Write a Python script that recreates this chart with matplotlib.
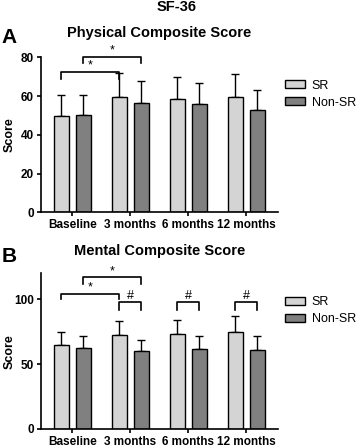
import matplotlib
matplotlib.use("Agg")
import matplotlib.pyplot as plt
import numpy as np

plt.rcParams['font.family'] = ['Liberation Sans', 'DejaVu Sans']

categories = ["Baseline", "3 months", "6 months", "12 months"]
series_names = ["SR", "Non-SR"]

pcs_sr = [49.5, 59.7, 58.7, 59.4]
pcs_sr_err = [10.9, 12.0, 11.0, 12.2]
pcs_non = [50.4, 56.6, 55.9, 53.0]
pcs_non_err = [10.0, 11.2, 11.0, 10.1]

mcs_sr = [64.6, 72.6, 73.6, 74.9]
mcs_sr_err = [10.0, 11.0, 10.8, 12.3]
mcs_non = [62.3, 60.0, 62.0, 61.3]
mcs_non_err = [9.7, 9.0, 10.0, 10.7]

col_sr = "#d4d4d4"
col_non = "#808080"

fig = plt.figure(figsize=(3.58, 4.47), dpi=100)
axA = fig.add_axes([0.1137, 0.525, 0.663, 0.3468])
axB = fig.add_axes([0.1137, 0.0403, 0.663, 0.348])

x = np.arange(len(categories))
off = 0.19
w = 0.26

def draw(ax, sr, sre, non, nne, ylim, yticks, leg_y):
    ax.bar(x - off, sr, w, color=col_sr, edgecolor="black", linewidth=1.0, label=series_names[0], zorder=2)
    ax.bar(x + off, non, w, color=col_non, edgecolor="black", linewidth=1.0, label=series_names[1], zorder=2)
    ax.errorbar(x - off, sr, yerr=[np.zeros(len(sr)), sre], fmt="none", ecolor="black", elinewidth=1.0, capsize=3, capthick=1.0, zorder=1)
    ax.errorbar(x + off, non, yerr=[np.zeros(len(non)), nne], fmt="none", ecolor="black", elinewidth=1.0, capsize=3, capthick=1.0, zorder=1)
    ax.set_xlim(-0.545, 3.545)
    ax.set_ylim(*ylim)
    ax.set_yticks(yticks)
    ax.set_xticks(x)
    ax.set_xticklabels(categories, fontweight="bold", fontsize=8.5)
    for t in ax.get_yticklabels():
        t.set_fontweight("bold")
        t.set_fontsize(8.5)
    ax.spines["top"].set_visible(False)
    ax.spines["right"].set_visible(False)
    ax.spines["left"].set_linewidth(1.2)
    ax.spines["bottom"].set_linewidth(1.2)
    ax.tick_params(axis="both", width=1.2, length=3, pad=2)
    ax.set_ylabel("Score", fontweight="bold", fontsize=9)
    ax.yaxis.set_label_coords(-0.104, 0.5)
    ax.legend(loc="center left", bbox_to_anchor=(0.796, leg_y), bbox_transform=fig.transFigure,
              frameon=False, fontsize=9, borderpad=0, borderaxespad=0,
              handlelength=1.6, handleheight=0.6, handletextpad=0.55, labelspacing=0.4)

def bracket(ax, x1, x2, y, leg, text):
    ax.plot([x1, x1, x2, x2], [y - leg, y, y, y - leg], color="black", lw=1.2, clip_on=False, zorder=3)
    ax.text((x1 + x2) / 2, y, text, ha="center", va="bottom", fontsize=9, clip_on=False)

draw(axA, pcs_sr, pcs_sr_err, pcs_non, pcs_non_err, (0, 80), [0, 20, 40, 60, 80], 0.789)
bracket(axA, 0 - off, 1 - off, 72.6, 4.0, "*")
bracket(axA, 0 + off, 1 + off, 80.3, 3.4, "*")

draw(axB, mcs_sr, mcs_sr_err, mcs_non, mcs_non_err, (0, 120), [0, 50, 100], 0.3054)
bracket(axB, 0 - off, 1 - off, 104.4, 4.4, "*")
bracket(axB, 0 + off, 1 + off, 117.2, 5.2, "*")
for i in range(1, 4):
    bracket(axB, i - off, i + off, 98.0, 5.9, "#")

fig.text(0.494, 0.984, "SF-36", ha="center", va="center", fontweight="bold", fontsize=10.5)
fig.text(0.445, 0.926, "Physical Composite Score", ha="center", va="center", fontweight="bold", fontsize=10.5)
fig.text(0.005, 0.916, "A", ha="left", va="center", fontweight="bold", fontsize=15)
fig.text(0.445, 0.438, "Mental Composite Score", ha="center", va="center", fontweight="bold", fontsize=10.5)
fig.text(0.005, 0.426, "B", ha="left", va="center", fontweight="bold", fontsize=15)

fig.savefig("out.png", dpi=100)
